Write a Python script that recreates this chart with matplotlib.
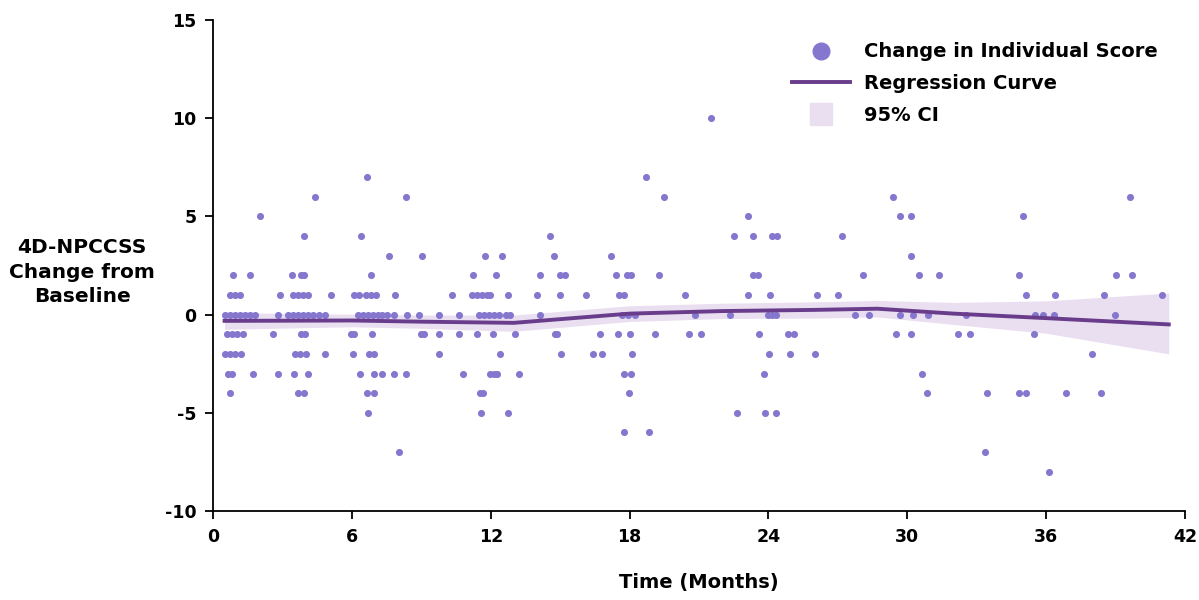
import numpy as np
import matplotlib.pyplot as plt
from matplotlib.lines import Line2D

plt.rcParams['font.family'] = ['DejaVu Sans']
plt.rcParams['font.weight'] = 'bold'
plt.rcParams['axes.unicode_minus'] = False

# individual scores, grouped by change value (months of each point)
pts = {
    10: [21.54],
    7: [6.67, 18.69],
    6: [4.40, 8.33, 19.47, 29.38, 39.64],
    5: [2.02, 23.1, 29.7, 30.14, 35.01],
    4: [3.94, 6.41, 14.57, 22.53, 23.32, 24.15, 24.39, 27.19],
    3: [7.59, 9.05, 11.75, 12.5, 14.72, 17.21, 30.17],
    2: [0.87, 1.59, 3.43, 3.8, 3.93, 6.82, 11.25, 12.21, 14.13, 15.01, 15.19,
        17.4, 17.9, 18.05, 19.27, 23.32, 23.56, 28.09, 30.51, 31.35, 34.82,
        39.03, 39.7],
    1: [0.73, 0.95, 1.16, 2.88, 3.46, 3.67, 3.89, 4.1, 5.1, 6.1, 6.32, 6.61,
        6.82, 7.04, 7.86, 10.31, 11.2, 11.42, 11.63, 11.85, 11.99, 12.74, 13.99,
        14.99, 16.11, 17.54, 17.77, 20.41, 23.13, 24.08, 26.12, 27.01, 35.12,
        36.37, 38.52, 41.0],
    0: [0.52, 0.73, 0.95, 1.16, 1.38, 1.59, 1.81, 2.81, 3.24, 3.46, 3.67, 3.89,
        4.1, 4.32, 4.6, 4.82, 6.25, 6.46, 6.68, 6.9, 7.11, 7.32, 7.54, 7.83,
        8.4, 8.9, 9.76, 10.63, 11.49, 11.71, 11.92, 12.14, 12.35, 12.64, 12.85,
        14.14, 17.68, 17.94, 18.23, 20.81, 22.36, 24.0, 24.14, 24.33, 27.74,
        28.35, 29.68, 30.25, 30.9, 32.54, 35.51, 35.87, 36.34, 38.98],
    -1: [0.59, 0.8, 1.02, 1.3, 2.6, 3.8, 3.99, 5.96, 6.1, 6.89, 8.97, 9.12,
         9.76, 10.63, 11.39, 12.12, 13.04, 14.76, 14.88, 16.72, 17.48, 18.01,
         19.12, 20.55, 21.1, 23.6, 24.86, 25.12, 29.52, 30.14, 32.17, 32.71,
         35.48],
    -2: [0.52, 0.73, 0.95, 1.23, 3.53, 3.74, 4.03, 4.86, 6.06, 6.75, 6.97,
         9.75, 12.38, 15.02, 16.43, 16.82, 18.1, 24.04, 24.95, 26.0, 37.98],
    -3: [0.66, 0.83, 1.71, 2.81, 3.5, 4.1, 6.35, 6.97, 7.32, 7.8, 8.33, 10.82,
         11.99, 12.14, 12.28, 13.24, 17.74, 18.06, 23.83, 30.63],
    -4: [0.73, 3.67, 3.93, 6.65, 6.97, 11.52, 11.68, 17.99, 30.87, 33.46,
         34.81, 35.13, 36.87, 38.38],
    -5: [6.71, 11.58, 12.74, 22.63, 23.85, 24.32],
    -6: [17.76, 18.85],
    -7: [8.05, 33.36],
    -8: [36.13],
}

# regression curve + 95% CI
reg_x = [0.5, 6, 9, 13, 18, 22, 26, 28.7, 32, 36, 41.3]
reg_y = [-0.32, -0.3, -0.36, -0.42, 0.05, 0.18, 0.24, 0.3, 0.05, -0.18, -0.5]
ci_lo = [-0.75, -0.62, -0.7, -0.85, -0.35, -0.2, -0.18, -0.12, -0.5, -0.95, -2.0]
ci_hi = [0.1, 0.02, -0.02, -0.02, 0.45, 0.58, 0.65, 0.72, 0.62, 0.7, 1.1]

dot_col = '#8577CE'
line_col = '#6A3D8C'
band_col = '#EADFF0'

xs = []
ys = []
for val, months in pts.items():
    xs += months
    ys += [val] * len(months)

fig = plt.figure(figsize=(11.99, 6), dpi=100)
ax = fig.add_axes([213 / 1199, 89 / 600, 972 / 1199, 491 / 600])

ax.fill_between(reg_x, ci_lo, ci_hi, color=band_col, lw=0, zorder=1)
ax.scatter(xs, ys, s=26, color=dot_col, lw=0, zorder=2)
ax.plot(reg_x, reg_y, color=line_col, lw=2.8, zorder=3)

ax.set_xlim(0, 42)
ax.set_ylim(-10, 15)
ax.set_xticks(range(0, 43, 6))
ax.set_yticks(range(-10, 16, 5))
for s in ['top', 'right']:
    ax.spines[s].set_visible(False)
for s in ['left', 'bottom']:
    ax.spines[s].set_linewidth(1.3)
ax.tick_params(direction='out', length=6, width=1.3, labelsize=12.5, pad=6)

ax.set_xlabel('Time (Months)', fontsize=14, fontweight='bold', labelpad=20)
fig.text(82 / 1199, 1 - 272 / 600, '4D-NPCCSS\nChange from\nBaseline', ha='center',
         va='center', fontsize=14.5, fontweight='bold', linespacing=1.35)

handles = [
    Line2D([], [], marker='o', ls='', color=dot_col, markersize=12),
    Line2D([], [], color=line_col, lw=2.8),
    Line2D([], [], marker='s', ls='', color=band_col, markersize=16),
]
labels = ['Change in Individual Score', 'Regression Curve', '95% CI']
ax.legend(handles, labels, loc='upper right', bbox_to_anchor=(0.99, 0.99),
          frameon=False, prop={'size': 14, 'weight': 'bold'},
          handlelength=3.0, handletextpad=0.7, labelspacing=0.66)

plt.savefig('out.png')
